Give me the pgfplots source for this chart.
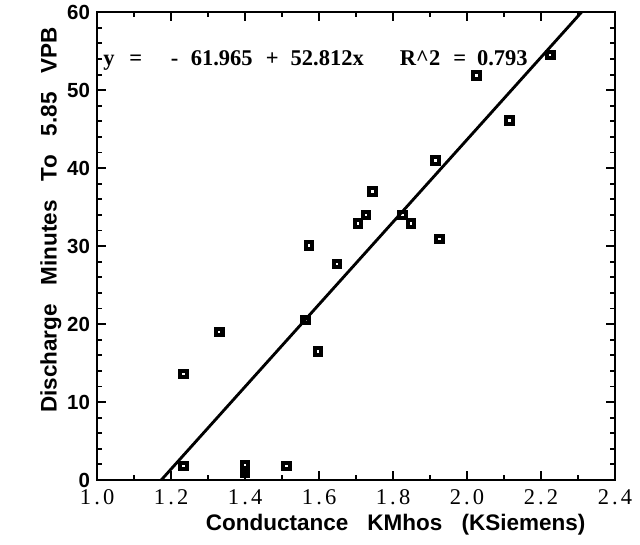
\documentclass[border=0pt]{standalone}
\usepackage{fontspec}
\setmainfont{Liberation Serif}
\setsansfont{Liberation Sans}
\newfontfamily\spacedserif[LetterSpace=14]{Liberation Serif}
\usepackage{pgfplots}
\pgfplotsset{compat=1.18}

\newcommand{\wsp}{\hspace{0.85em}}

\begin{document}
\begin{tikzpicture}
\begin{axis}[
  scale only axis,
  width=8.9cm, height=8.04cm,
  xmin=1.0, xmax=2.4, ymin=0, ymax=60,
  xtick={1.0,1.2,...,2.4},
  xticklabels={1.0,1.2,1.4,1.6,1.8,2.0,2.2,2.4},
  ytick={0,10,...,60},
  minor x tick num=1,
  minor y tick num=4,
  tick align=inside,
  major tick length=0.15cm,
  minor tick length=0.09cm,
  every tick/.style={black, line width=0.9pt},
  axis line style={line width=1.1pt},
  /pgf/number format/assume math mode=true,
  xticklabel style={font=\spacedserif\fontsize{11}{13}\selectfont, yshift=-1pt},
  yticklabel style={font=\sffamily\bfseries\fontsize{10}{12}\selectfont},
  xlabel={Conductance\wsp KMhos\wsp (KSiemens)},
  ylabel={Discharge\wsp Minutes\wsp To\wsp 5.85\wsp VPB},
  label style={font=\sffamily\bfseries\fontsize{11}{13}\selectfont},
  xlabel style={yshift=2pt, xshift=0.68cm},
  ylabel style={yshift=-4pt, xshift=0.45cm},
  clip=false,
]
% observed points
\addplot[only marks, mark=square, mark size=1.6pt,
  mark options={line width=2pt, black, fill=white}]
  coordinates {
  (1.233,1.8) (1.233,13.6) (1.330,19.0) (1.400,1.0) (1.400,1.9)
  (1.512,1.8) (1.563,20.5) (1.573,30.1) (1.597,16.5) (1.648,27.7)
  (1.705,32.9) (1.727,34.0) (1.745,37.0) (1.826,34.0) (1.848,32.9)
  (1.915,41.0) (1.925,30.9) (2.025,51.9) (2.115,46.1) (2.225,54.5)
  };
% regression line y = -61.965 + 52.812x
\addplot[black, line width=1.4pt] coordinates {(1.1733,0) (2.3094,60)};
% equation text
\begin{scope}[every node/.style={anchor=base west, inner sep=0pt,
    font=\bfseries\fontsize{11}{13}\selectfont}]
\node at (axis cs:1.016,53.2) {y};
\node at (axis cs:1.086,53.2) {=};
\node at (axis cs:1.198,53.2) {-};
\node at (axis cs:1.252,53.2) {61.965};
\node at (axis cs:1.455,53.2) {+};
\node at (axis cs:1.522,53.2) {52.812x};
\node at (axis cs:1.817,53.2) {R\textasciicircum 2};
\node at (axis cs:1.962,53.2) {=};
\node at (axis cs:2.026,53.2) {0.793};
\end{scope}
\end{axis}
\pgfresetboundingbox
\useasboundingbox (-1.67,-1.1) rectangle (9.33,8.25);
\end{tikzpicture}
\end{document}
